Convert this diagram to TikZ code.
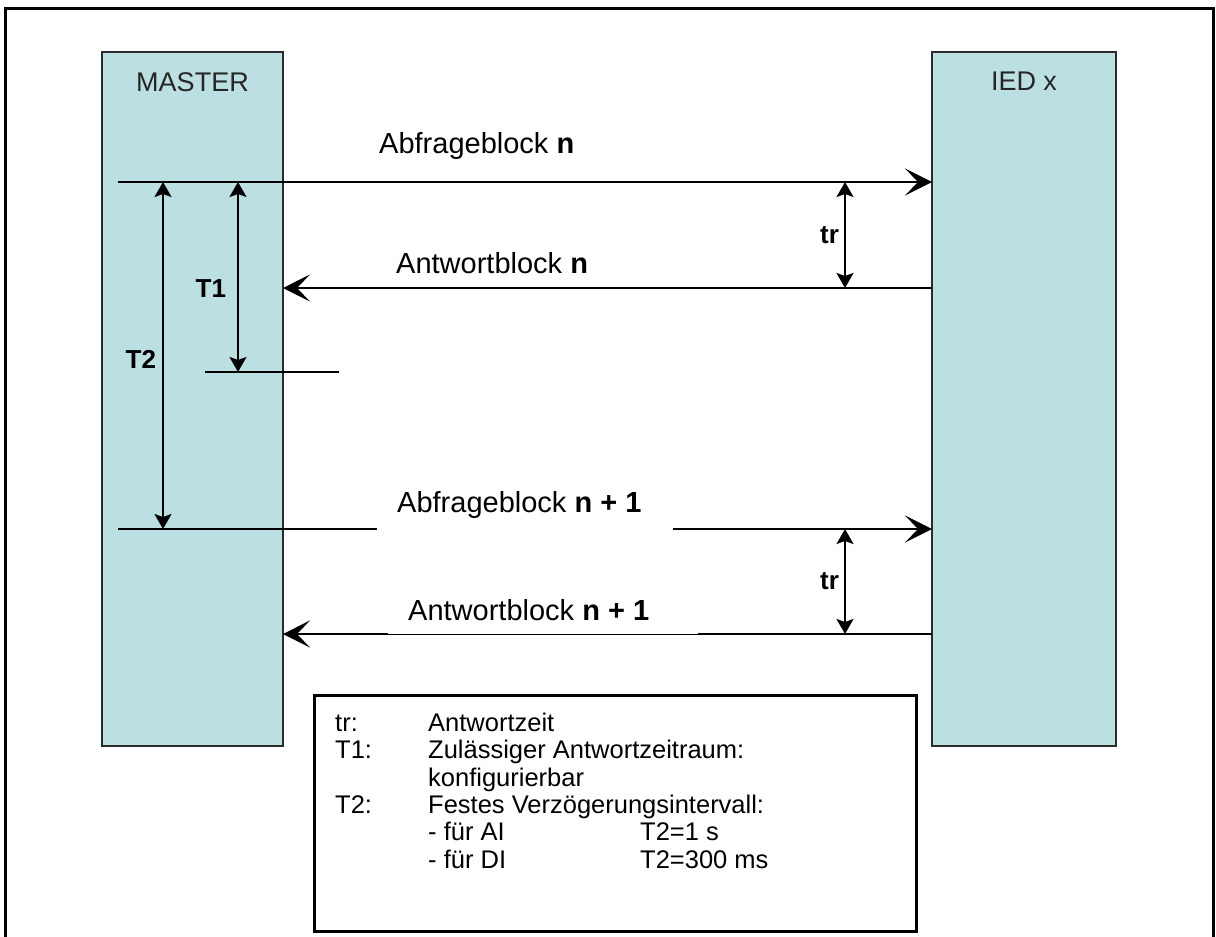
\documentclass[tikz,border=0pt]{standalone}
\usepackage{fontspec}
\setmainfont{Liberation Sans}
\usetikzlibrary{arrows.meta,positioning}
\definecolor{stationbg}{HTML}{BCDFE2}
\definecolor{stationborder}{HTML}{2B2B2B}
\definecolor{stationtext}{HTML}{262626}

\begin{document}
\begin{tikzpicture}[
    x=1pt, y=-1pt,
    stationbox/.style={
        draw=stationborder, fill=stationbg, line width=2pt,
        minimum height=694pt, anchor=north west,
        inner sep=0pt, outer sep=0pt
    },
    stationlabel/.style={
        font=\fontsize{27}{32}\selectfont, color=stationtext, inner sep=0pt
    },
    msglabel/.style={
        font=\fontsize{29}{34}\selectfont, inner sep=0pt, anchor=base west
    },
    dimlabel/.style={
        font=\fontsize{26}{30}\selectfont\bfseries, inner sep=0pt
    },
    msgarrow/.style={
        -{Stealth[length=27pt,width=27pt,inset=13pt]}, line width=2pt
    },
    dimarrow/.style={
        {Stealth[length=15pt,width=17pt,inset=3pt]}-{Stealth[length=15pt,width=17pt,inset=3pt]},
        line width=2pt
    },
    gapcover/.style={
        fill=white, inner sep=0pt, minimum height=40pt, anchor=south west
    },
    legendbox/.style={
        draw, line width=2.5pt, anchor=north west, inner sep=0pt,
        minimum width=602pt, minimum height=236pt
    },
    legendtext/.style={
        font=\fontsize{25.5}{27.4}\selectfont, inner sep=0pt, align=left
    },
]
\useasboundingbox (0,0) rectangle (1216,937);

% ===== Outer frame =====
\draw[line width=3pt] (5.5,937) -- (5.5,8) -- (1213.5,8) -- (1213.5,937);

% ===== Stations =====
\node[stationbox, minimum width=181pt] (master) at (102,52) {};
\node[stationbox, minimum width=184pt] (ied) at (932,52) {};
\node[stationlabel, below=20pt of master.north] (masterlabel) {MASTER};
\node[stationlabel, below=20pt of ied.north] (iedlabel) {IED x};

% ===== Message levels =====
\coordinate (req1) at (118,182);
\coordinate (rsp1) at (932,288);
\coordinate (req2) at (118,529);
\coordinate (rsp2) at (932,634);
\coordinate (t1end) at (238,372);
\coordinate (t2x) at (163,0);
\coordinate (trx) at (845,0);
\coordinate (tickl) at (205,372);
\coordinate (tickr) at (339,372);

% ===== Messages =====
\draw[msgarrow] (req1) -- (req1 -| ied.west);
\draw[msgarrow] (rsp1) -- (rsp1 -| master.east);
\draw[msgarrow] (req2) -- (req2 -| ied.west);
\draw[msgarrow] (rsp2) -- (rsp2 -| master.east);

% ===== Time intervals =====
\draw[dimarrow] (req1 -| t1end) -- node[dimlabel, left=11pt, pos=0.56] (t1label) {T1} (t1end);
\draw[line width=2pt] (tickl) -- (tickr);
\draw[dimarrow] (req1 -| t2x) -- node[dimlabel, left=6pt, pos=0.51] (t2label) {T2} (req2 -| t2x);
\draw[dimarrow] (req1 -| trx) -- node[dimlabel, left=5pt] (trlabel1) {tr} (rsp1 -| trx);
\draw[dimarrow] (req2 -| trx) -- node[dimlabel, left=5pt] (trlabel2) {tr} (rsp2 -| trx);

% ===== Message labels =====
\node[gapcover, minimum width=296pt] (cover2) at (377,529.7) {};
\node[gapcover, minimum width=310pt] (cover3) at (388,634) {};
\node[msglabel] (reqlabel1) at (379,153) {Abfrageblock \textbf{n}};
\node[msglabel] (rsplabel1) at (396,273) {Antwortblock \textbf{n}};
\node[msglabel] (reqlabel2) at (397,512) {Abfrageblock \textbf{n + 1}};
\node[msglabel] (rsplabel2) at (408,620) {Antwortblock \textbf{n + 1}};

% ===== Legend =====
\node[legendbox] (legend) at (313,694) {};
\node[legendtext, below right=18pt and 22pt of legend.north west] (legendtext) {%
    \begin{tabular}{@{}p{93pt}@{}l@{}}
    tr: & Antwortzeit\\
    T1: & Zulässiger Antwortzeitraum:\\
        & konfigurierbar\\
    T2: & Festes Verzögerungsintervall:\\
        & \makebox[212pt][l]{- für AI}T2=1 s\\
        & \makebox[212pt][l]{- für DI}T2=300 ms
    \end{tabular}};

\end{tikzpicture}
\end{document}
